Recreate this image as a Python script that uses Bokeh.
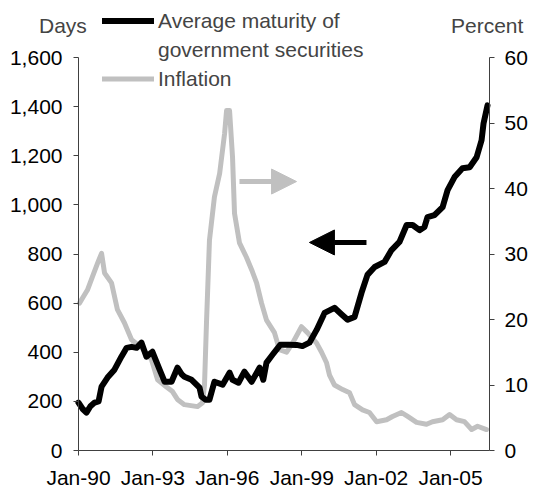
from bokeh.plotting import figure
from bokeh.models import (Range1d, LinearAxis, FixedTicker, NumeralTickFormatter,
                          Legend, LegendItem, Arrow, NormalHead)
from bokeh.embed import file_html
from bokeh.resources import INLINE

# ---- data (decimal years) ----
maturity_years = [1990.00, 1990.16, 1990.32, 1990.48, 1990.65, 1990.81, 1990.93, 1991.17, 1991.45,
                  1991.73, 1991.94, 1992.14, 1992.34, 1992.54, 1992.74, 1992.98, 1993.27, 1993.47,
                  1993.75, 1993.99, 1994.17, 1994.27, 1994.56, 1994.88, 1994.96, 1995.12, 1995.28,
                  1995.48, 1995.81, 1996.09, 1996.21, 1996.45, 1996.69, 1996.98, 1997.30, 1997.45,
                  1997.58, 1997.82, 1998.14, 1998.47, 1998.79, 1999.03, 1999.31, 1999.60, 1999.92,
                  2000.32, 2000.60, 2000.85, 2001.13, 2001.41, 2001.65, 2001.94, 2002.34, 2002.62,
                  2002.94, 2003.23, 2003.47, 2003.75, 2003.95, 2004.07, 2004.35, 2004.68, 2004.88,
                  2005.16, 2005.48, 2005.77, 2006.05, 2006.25, 2006.33, 2006.49]
maturity_days = [195, 170, 154, 180, 195, 200, 260, 297, 329,
                 382, 418, 422, 418, 439, 382, 402, 329, 280,
                 280, 337, 309, 300, 288, 256, 219, 207, 207,
                 280, 268, 317, 288, 276, 321, 280, 337, 288,
                 358, 390, 431, 431, 430, 425, 439, 491, 560,
                 581, 555, 532, 544, 642, 715, 747, 768, 816,
                 849, 918, 918, 897, 910, 950, 958, 991, 1060,
                 1113, 1149, 1153, 1194, 1263, 1332, 1405]

inflation_years = [1990.04, 1990.20, 1990.36, 1990.56, 1990.77, 1990.93, 1991.05, 1991.33, 1991.57,
                   1991.85, 1992.14, 1992.54, 1992.94, 1993.19, 1993.55, 1993.79, 1993.99, 1994.27,
                   1994.80, 1995.00, 1995.08, 1995.16, 1995.28, 1995.48, 1995.69, 1995.89, 1995.97,
                   1996.09, 1996.21, 1996.29, 1996.49, 1996.77, 1996.98, 1997.18, 1997.38, 1997.58,
                   1997.90, 1998.10, 1998.39, 1998.63, 1998.99, 1999.23, 1999.60, 1999.80, 2000.00,
                   2000.12, 2000.32, 2000.65, 2000.93, 2001.13, 2001.45, 2001.73, 2002.02, 2002.42,
                   2002.66, 2003.02, 2003.27, 2003.63, 2004.03, 2004.27, 2004.68, 2004.96, 2005.24,
                   2005.56, 2005.85, 2006.09, 2006.45]
inflation_pct = [22.5, 23.5, 24.5, 26.5, 28.6, 30.1, 27.1, 25.6, 21.5,
                 19.5, 16.9, 15.7, 13.9, 10.8, 9.7, 9.0, 7.8, 7.0,
                 6.7, 7.3, 10.0, 19.5, 32.1, 38.7, 42.3, 48.4, 51.9,
                 51.9, 44.8, 36.2, 31.7, 29.5, 27.6, 25.6, 22.5, 19.9,
                 18.0, 15.4, 15.0, 16.4, 18.9, 18.0, 16.4, 15.0, 13.4,
                 11.5, 10.0, 9.3, 8.8, 7.0, 6.2, 5.8, 4.4, 4.7,
                 5.2, 5.8, 5.2, 4.3, 4.0, 4.4, 4.7, 5.5, 4.7,
                 4.4, 3.2, 3.7, 3.2]

tick_years = [1990, 1993, 1996, 1999, 2002, 2005]
tick_labels = ["Jan-90", "Jan-93", "Jan-96", "Jan-99", "Jan-02", "Jan-05"]
days_ticks = [0, 200, 400, 600, 800, 1000, 1200, 1400, 1600]
pct_ticks = [0, 10, 20, 30, 40, 50, 60]
series_names = ["Average maturity of", "government securities", "Inflation"]
axis_titles = ["Days", "Percent"]

FONT = "Liberation Sans"
FS = "21px"
GRAY = "#c0c0c0"
AXC = "#404040"

# layout geometry (pixels): plot area 411 x 393, placed at (78, 57) inside a 530 x 489 canvas
W, H = 530, 489
PL, PT, PW, PH = 78, 57, 411, 393
X0, X1 = 1990.0, 2006.57
D0, D1 = 0.0, 1600.0
P0, P1 = 0.0, 60.0
xs = (X1 - X0) / PW
ds = (D1 - D0) / PH
ps = (P1 - P0) / PH
BOT = H - PT - PH
x_range = Range1d(X0 - PL * xs, X1 + (W - PL - PW) * xs)
y_range = Range1d(D0 - BOT * ds, D1 + PT * ds)
pct_range = Range1d(P0 - BOT * ps, P1 + PT * ps)

p = figure(width=W, height=H, output_backend="svg", toolbar_location=None,
           x_range=x_range, y_range=y_range, min_border=0)
p.extra_y_ranges = {"pct": pct_range}
p.outline_line_color = None
p.xgrid.visible = False
p.ygrid.visible = False
p.background_fill_color = "white"
p.border_fill_color = "white"

r_inf = p.line(inflation_years, inflation_pct, y_range_name="pct", line_color=GRAY,
               line_width=5, line_join="round", line_cap="round")
r_mat = p.line(maturity_years, maturity_days, line_color="black",
               line_width=6, line_join="round", line_cap="round")
r_dummy = p.line([], [], line_alpha=0)

def style(ax):
    ax.axis_line_color = AXC
    ax.major_tick_line_color = AXC
    ax.major_tick_in = 0
    ax.major_tick_out = 5
    ax.minor_tick_line_color = None
    ax.major_label_text_font = FONT
    ax.major_label_text_font_size = FS
    ax.major_label_text_color = "black"

xa = p.xaxis[0]
xa.ticker = FixedTicker(ticks=tick_years)
xa.major_label_overrides = {y: l for y, l in zip(tick_years, tick_labels)}
xa.major_label_standoff = 10
xa.fixed_location = D0
xa.bounds = (X0, X1)
style(xa)

ya = p.yaxis[0]
ya.ticker = FixedTicker(ticks=days_ticks)
ya.formatter = NumeralTickFormatter(format="0,0")
ya.major_label_standoff = 11
ya.fixed_location = X0
ya.bounds = (D0, D1)
style(ya)

ra = LinearAxis(y_range_name="pct", ticker=FixedTicker(ticks=pct_ticks))
ra.major_label_standoff = 10
ra.fixed_location = X1
ra.bounds = (P0, P1)
style(ra)
p.add_layout(ra, "right")

# direction arrows
p.add_layout(Arrow(x_start=1996.49, y_start=1095, x_end=1998.79, y_end=1095,
                   line_color=GRAY, line_width=5,
                   end=NormalHead(size=25, fill_color=GRAY, line_color=GRAY, line_width=1)))
p.add_layout(Arrow(x_start=2001.61, y_start=847, x_end=1999.31, y_end=847,
                   line_color="black", line_width=5,
                   end=NormalHead(size=25, fill_color="black", line_color="black", line_width=1)))

def text_legend(items, loc, gw, standoff, spacing):
    return Legend(items=items, location=loc, orientation="vertical",
                  label_text_font=FONT, label_text_font_size=FS,
                  glyph_width=gw, glyph_height=25, label_height=25, label_standoff=standoff,
                  spacing=spacing, padding=0, margin=0,
                  border_line_alpha=0, background_fill_alpha=0)

legend = text_legend([LegendItem(label=series_names[0], renderers=[r_mat]),
                      LegendItem(label=series_names[1], renderers=[r_dummy]),
                      LegendItem(label=series_names[2], renderers=[r_inf])],
                     (102, 398), 52, 4, 4)
p.add_layout(legend, "center")

p.add_layout(text_legend([LegendItem(label=axis_titles[0], renderers=[r_dummy])],
                         (39, 451), 0, 0, 0), "center")
p.add_layout(text_legend([LegendItem(label=axis_titles[1], renderers=[r_dummy])],
                         (451, 451), 0, 0, 0), "center")

open("out.html", "w").write(file_html(p, INLINE))
